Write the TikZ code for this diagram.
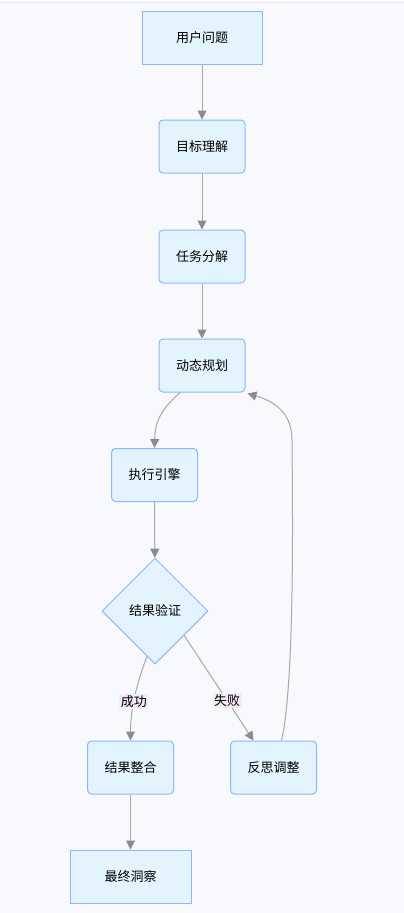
\documentclass[tikz,border=0pt]{standalone}
\usepackage{fontspec}
\setmainfont{Noto Sans CJK SC}
\usetikzlibrary{arrows.meta}
\usetikzlibrary{shapes.geometric}
\definecolor{bgcol}{HTML}{F8F9FC}
\definecolor{boxfill}{HTML}{E4F4FF}
\definecolor{boxline}{HTML}{8AB8F8}
\definecolor{linkcol}{HTML}{A8A8A8}
\definecolor{tipcol}{HTML}{8C8C8C}
\definecolor{tagfill}{HTML}{F4EAFB}
\tikzset{
  stepbox/.style={draw=boxline, fill=boxfill, line width=1pt, rounded corners=4pt,
    minimum width=86pt, minimum height=53pt, font=\fontsize{13}{15}\selectfont},
  endbox/.style={stepbox, rounded corners=0pt, minimum width=120pt},
  checkbox/.style={draw=boxline, fill=boxfill, line width=1pt, diamond, aspect=1,
    minimum width=106pt, minimum height=106pt, inner sep=0pt, font=\fontsize{13}{15}\selectfont},
  link/.style={draw=linkcol, line width=1pt, -{Triangle[width=9pt,length=9pt,color=tipcol]}},
  tag/.style={fill=tagfill, inner sep=1.5pt, font=\fontsize{13}{15}\selectfont}
}

\begin{document}
\begin{tikzpicture}[x=1pt, y=-1pt]
\fill[bgcol] (0,0) rectangle (404,913);
\useasboundingbox (0,0) rectangle (404,913);
\draw[black!8] (0,2.5)--(404,2.5);

\node[endbox] (ask) at (202,37.5) {用户问题};
\node[stepbox] (goal) at (202,146.5) {目标理解};
\node[stepbox] (split) at (202,256.5) {任务分解};
\node[stepbox] (plan) at (202,365.5) {动态规划};
\node[stepbox] (exec) at (154.5,475) {执行引擎};
\node[checkbox] (check) at (155,611) {结果验证};
\node[stepbox] (merge) at (130.5,767.5) {结果整合};
\node[stepbox] (fix) at (273.5,767.5) {反思调整};
\node[endbox, minimum width=121pt] (out) at (130.5,876.5) {最终洞察};

\draw[link] (ask) -- (goal);
\draw[link] (goal) -- (split);
\draw[link] (split) -- (plan);
\draw[link] ([xshift=-22pt]plan.south) .. controls (158,412) and (155,425) .. (exec.north);
\draw[link] (exec) -- (check);
\draw[link] (check.-100) .. controls (134,690) and (130.5,715) .. (merge.north)
  node[tag, pos=0.5] {成功};
\draw[link] (check.-40) -- ([xshift=-20pt]fix.north)
  node[tag, pos=0.62] {失败};
\draw[link] ([xshift=8pt]fix.north) .. controls (296,680) and (292,470) .. (292,440)
  .. controls (292,410) and (270,400) .. ([xshift=2pt,yshift=-1pt]plan.south east);
\draw[link] (merge) -- (out);
\end{tikzpicture}
\end{document}
